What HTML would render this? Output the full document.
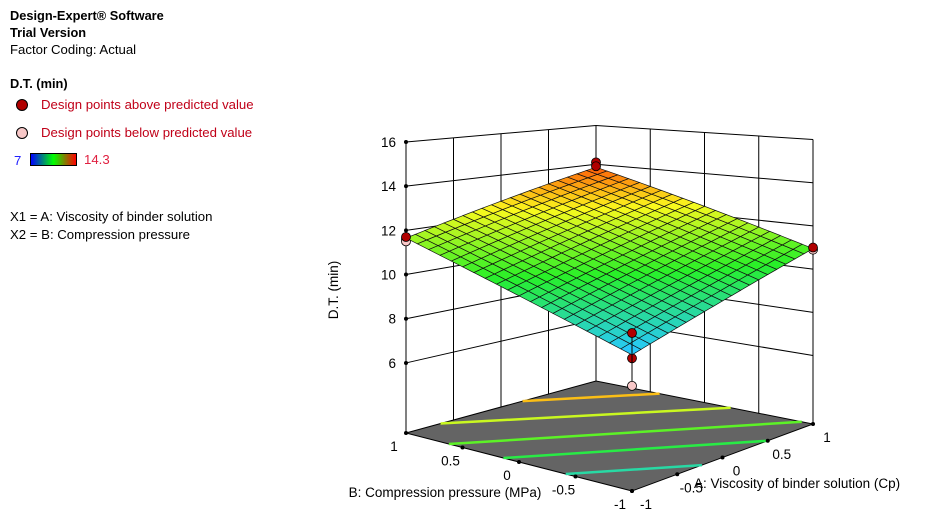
<!DOCTYPE html>
<html><head><meta charset="utf-8"><style>
body{margin:0;background:#fff;width:929px;height:519px;overflow:hidden;font-family:"Liberation Sans",sans-serif;}
.t{position:absolute;font-size:13.2px;color:#000;white-space:nowrap}
.b{font-weight:bold;font-size:12.8px}
.r{color:#c00018}
</style></head><body>
<div class="t b" style="left:10px;top:8px">Design-Expert® Software</div>
<div class="t b" style="left:10px;top:25px">Trial Version</div>
<div class="t" style="left:10px;top:42px">Factor Coding: Actual</div>
<div class="t b" style="left:10px;top:76px">D.T. (min)</div>
<div style="position:absolute;left:16px;top:99px;width:10px;height:10px;border-radius:50%;background:#b00000;border:1.5px solid #000"></div>
<div class="t r" style="left:41px;top:97px">Design points above predicted value</div>
<div style="position:absolute;left:16px;top:127px;width:10px;height:10px;border-radius:50%;background:#f8c8c8;border:1.5px solid #000"></div>
<div class="t r" style="left:41px;top:125px">Design points below predicted value</div>
<div class="t" style="left:14px;top:153px;color:#2020ff">7</div>
<div style="position:absolute;left:30px;top:153px;width:45px;height:11px;border:1px solid #000;background:linear-gradient(to right,#0000ff,#00ff00,#ff0000)"></div>
<div class="t" style="left:84px;top:152px;color:#e02040">14.3</div>
<div class="t" style="left:10px;top:209px">X1 = A: Viscosity of binder solution</div>
<div class="t" style="left:10px;top:227px">X2 = B: Compression pressure</div>
<svg id="c" width="929" height="519" style="position:absolute;left:0;top:0"></svg>
<script>
const coefs=[11.3,1.1,1.45]; // intercept, A, B
const zTicks=[6,8,10,12,14,16];
const codedTicks=[-1,-0.5,0,0.5,1];
const codedTickLabels=["-1","-0.5","0","0.5","1"];
const contourLevels=[9.6,10.4,11.1,12.05,13.0];
const designA=[1,1,-1,-1,1,-1,-1,-1,-1,1,1];
const designB=[1,1,1,1,-1,-1,-1,-1,1,-1,1];
const designZ=[14.1,13.7,11.6,11.7,11.0,9.7,8.6,7.4,11.5,10.9,13.9];
const designAbove=[1,1,1,1,1,1,1,0,0,0,1];
const zmin=2.83,zmax=16;
const C={f:[632,491,23],l:[406,433,22.1],r:[813,424,21.6],k:[596,381,19.4]};
function bil(A,B,i){const u=(A+1)/2,v=(B+1)/2;
 return (1-u)*(1-v)*C.f[i]+(1-u)*v*C.l[i]+u*(1-v)*C.r[i]+u*v*C.k[i];}
function P(A,B,z){const s=bil(A,B,2);return [bil(A,B,0),bil(A,B,1)-(z-zmin)*s];}
function model(A,B){return coefs[0]+coefs[1]*A+coefs[2]*B;}
function col(z){let t=Math.max(0,Math.min(1,(z-7)/7.3));
 const st=[[0,[40,80,255]],[0.25,[40,200,255]],[0.5,[40,240,40]],[0.75,[250,250,30]],[1,[255,40,0]]];
 for(let i=0;i<4;i++){if(t<=st[i+1][0]){const a=st[i],b=st[i+1],f=(t-a[0])/(b[0]-a[0]);
 return 'rgb('+a[1].map((c,j)=>Math.round(c+(b[1][j]-c)*f)).join(',')+')';}}return 'rgb(255,40,0)';}
const svg=document.getElementById('c');const NS='http://www.w3.org/2000/svg';
function el(tag,at,name){const e=document.createElementNS(NS,tag);for(const k in at)e.setAttribute(k,at[k]);
 
 
 svg.appendChild(e);return e;}
function line(p,q,name,st,w){return el('line',{x1:p[0],y1:p[1],x2:q[0],y2:q[1],stroke:st||'#000','stroke-width':w||1},name);}
for(const a of codedTicks){line(P(a,1,zmin),P(a,1,zmax),'wall-grid-vertical');line(P(1,a,zmin),P(1,a,zmax),'wall-grid-vertical');}
for(const z of zTicks){line(P(-1,1,z),P(1,1,z),'wall-grid-horizontal');line(P(1,1,z),P(1,-1,z),'wall-grid-horizontal');}
line(P(-1,1,zmin),P(-1,1,zmax),'z-axis-line');
const fl=[P(-1,-1,zmin),P(-1,1,zmin),P(1,1,zmin),P(1,-1,zmin)];
el('polygon',{points:fl.map(p=>p.join(',')).join(' '),fill:'#646464',stroke:'#000','stroke-width':1},'contour-floor');
for(const c of contourLevels){const pts=[];
 for(const A of [-1,1]){const B=(c-coefs[0]-coefs[1]*A)/coefs[2];if(B>=-1&&B<=1)pts.push([A,B]);}
 for(const B of [-1,1]){const A=(c-coefs[0]-coefs[2]*B)/coefs[1];if(A>-1&&A<1)pts.push([A,B]);}
 if(pts.length>=2)line(P(pts[0][0],pts[0][1],zmin),P(pts[1][0],pts[1][1],zmin),'contour-line',col(c),2.5);}
function txt(x,y,s,name,anchor,rot){const e=el('text',{x:x,y:y,'font-size':13.5,'font-family':'Liberation Sans, sans-serif','text-anchor':anchor||'middle',fill:'#000'},name);
 if(rot)e.setAttribute('transform','rotate(-90 '+x+' '+y+')');e.textContent=s;return e;}
zTicks.forEach((z,i)=>{const p=P(-1,1,z);el('circle',{cx:p[0],cy:p[1],r:2,fill:'#000'},'z-tick');txt(p[0]-10,p[1]+5,String(z),'z-tick-label','end');});
codedTicks.forEach((b,i)=>{const p=P(-1,b,zmin);el('circle',{cx:p[0],cy:p[1],r:2,fill:'#000'},'b-tick');txt(p[0]-12,p[1]+18,codedTickLabels[i],'b-tick-label');});
codedTicks.forEach((a,i)=>{const p=P(a,-1,zmin);el('circle',{cx:p[0],cy:p[1],r:2,fill:'#000'},'a-tick');txt(p[0]+14,p[1]+18,codedTickLabels[i],'a-tick-label');});
txt(338,290,'D.T. (min)','z-axis-title','middle',true);
txt(445,497,'B: Compression pressure (MPa)','b-axis-title');
txt(694,488,'A: Viscosity of binder solution (Cp)','a-axis-title','start');
function pt(i){const p=P(designA[i],designB[i],designZ[i]);const s=P(designA[i],designB[i],model(designA[i],designB[i]));
 line(p,s,'design-point-stem','#000',1);
 el('circle',{cx:p[0],cy:p[1],r:4.5,fill:designAbove[i]?'#b00000':'#f8c8c8',stroke:'#000','stroke-width':0.8},'design-point');}
designZ.forEach((z,i)=>{if(z<model(designA[i],designB[i]))pt(i);});
const N=20;
for(let i=0;i<N;i++)for(let j=0;j<N;j++){
 const a0=-1+2*i/N,a1=-1+2*(i+1)/N,b0=-1+2*j/N,b1=-1+2*(j+1)/N;
 const q=[[a0,b0],[a1,b0],[a1,b1],[a0,b1]].map(v=>P(v[0],v[1],model(v[0],v[1])));
 el('polygon',{points:q.map(p=>p.join(',')).join(' '),fill:col(model((a0+a1)/2,(b0+b1)/2)),stroke:'#111','stroke-width':0.7},'surface-cell');}
designZ.forEach((z,i)=>{if(z>=model(designA[i],designB[i]))pt(i);});
</script>
</body></html>
